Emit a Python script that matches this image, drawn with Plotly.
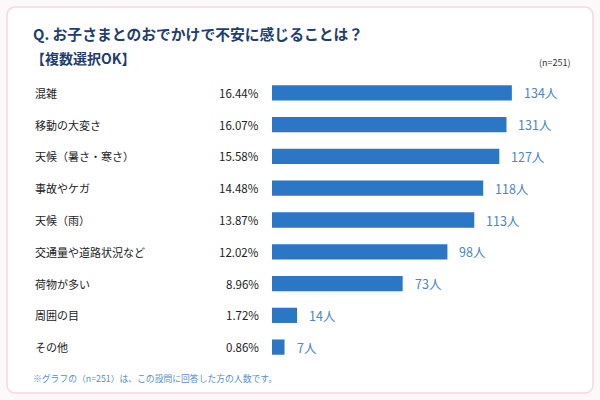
import plotly.graph_objects as go

categories = ["混雑", "移動の大変さ", "天候（暑さ・寒さ）", "事故やケガ", "天候（雨）",
              "交通量や道路状況など", "荷物が多い", "周囲の目", "その他"]
counts = [134, 131, 127, 118, 113, 98, 73, 14, 7]
percents = ["16.44%", "16.07%", "15.58%", "14.48%", "13.87%", "12.02%", "8.96%", "1.72%", "0.86%"]
count_labels = [f"{c}人" for c in counts]

FONT = "Noto Sans CJK JP, Noto Sans, sans-serif"
W, H = 600, 400
px = lambda v: v / W
py = lambda v: 1 - v / H
PX_PER_UNIT = 1.79

fig = go.Figure()
fig.add_trace(go.Bar(
    x=counts, y=categories, orientation="h",
    marker=dict(color="#2b77c6", line=dict(width=0)),
    width=0.48, hoverinfo="skip",
))

ann = []
for cat, pct in zip(categories, percents):
    ann.append(dict(x=px(33), xref="paper", y=cat, yref="y", text=cat, showarrow=False,
                    xanchor="left", yanchor="middle",
                    font=dict(family=FONT, size=11, color="#222222")))
    ann.append(dict(x=px(261), xref="paper", y=cat, yref="y", text=pct, showarrow=False,
                    xanchor="right", yanchor="middle",
                    font=dict(family=FONT, size=11.5, color="#222222")))
for cat, c, lab in zip(categories, counts, count_labels):
    ann.append(dict(x=c, xref="x", y=cat, yref="y", text=lab, showarrow=False,
                    xanchor="left", yanchor="middle", xshift=10,
                    font=dict(family=FONT, size=12.5, color="#4d86c4")))

ann += [
    dict(x=px(31), y=py(33), xref="paper", yref="paper", text="<b>Q. お子さまとのおでかけで不安に感じることは？</b>",
         showarrow=False, xanchor="left", yanchor="middle",
         font=dict(family=FONT, size=14.8, color="#1f3d6d")),
    dict(x=px(29), y=py(58), xref="paper", yref="paper", text="<b>【複数選択OK】</b>",
         showarrow=False, xanchor="left", yanchor="middle",
         font=dict(family=FONT, size=14, color="#1f3d6d")),
    dict(x=px(573), y=py(62), xref="paper", yref="paper", text="(n=251)",
         showarrow=False, xanchor="right", yanchor="middle",
         font=dict(family=FONT, size=9, color="#333333")),
    dict(x=px(31), y=py(378), xref="paper", yref="paper", text="※グラフの（n=251）は、この設問に回答した方の人数です。",
         showarrow=False, xanchor="left", yanchor="middle",
         font=dict(family=FONT, size=8.8, color="#5a8fcc")),
]

# rounded card
x0, x1 = px(7), px(593)
y0, y1 = py(393), py(7)
rx, ry = 9 / W, 9 / H
path = (f"M {x0+rx},{y0} L {x1-rx},{y0} Q {x1},{y0} {x1},{y0+ry} L {x1},{y1-ry} "
        f"Q {x1},{y1} {x1-rx},{y1} L {x0+rx},{y1} Q {x0},{y1} {x0},{y1-ry} "
        f"L {x0},{y0+ry} Q {x0},{y0} {x0+rx},{y0} Z")

fig.update_layout(
    width=W, height=H, margin=dict(l=0, r=0, t=0, b=0),
    paper_bgcolor="#fdf9fa", plot_bgcolor="rgba(0,0,0,0)",
    showlegend=False, annotations=ann,
    shapes=[dict(type="path", path=path, xref="paper", yref="paper",
                 fillcolor="#ffffff", line=dict(color="#f7d9e0", width=1.5), layer="below")],
    xaxis=dict(domain=[px(272), px(560)], range=[0, 288 / PX_PER_UNIT], visible=False, fixedrange=True),
    yaxis=dict(domain=[py(363), py(77)], range=[8.5, -0.5], visible=False,
               categoryorder="array", categoryarray=categories, fixedrange=True),
)

fig.write_html("out.html", config={"displayModeBar": False},
               post_script="document.body.style.margin='0';document.body.style.overflow='hidden';")
